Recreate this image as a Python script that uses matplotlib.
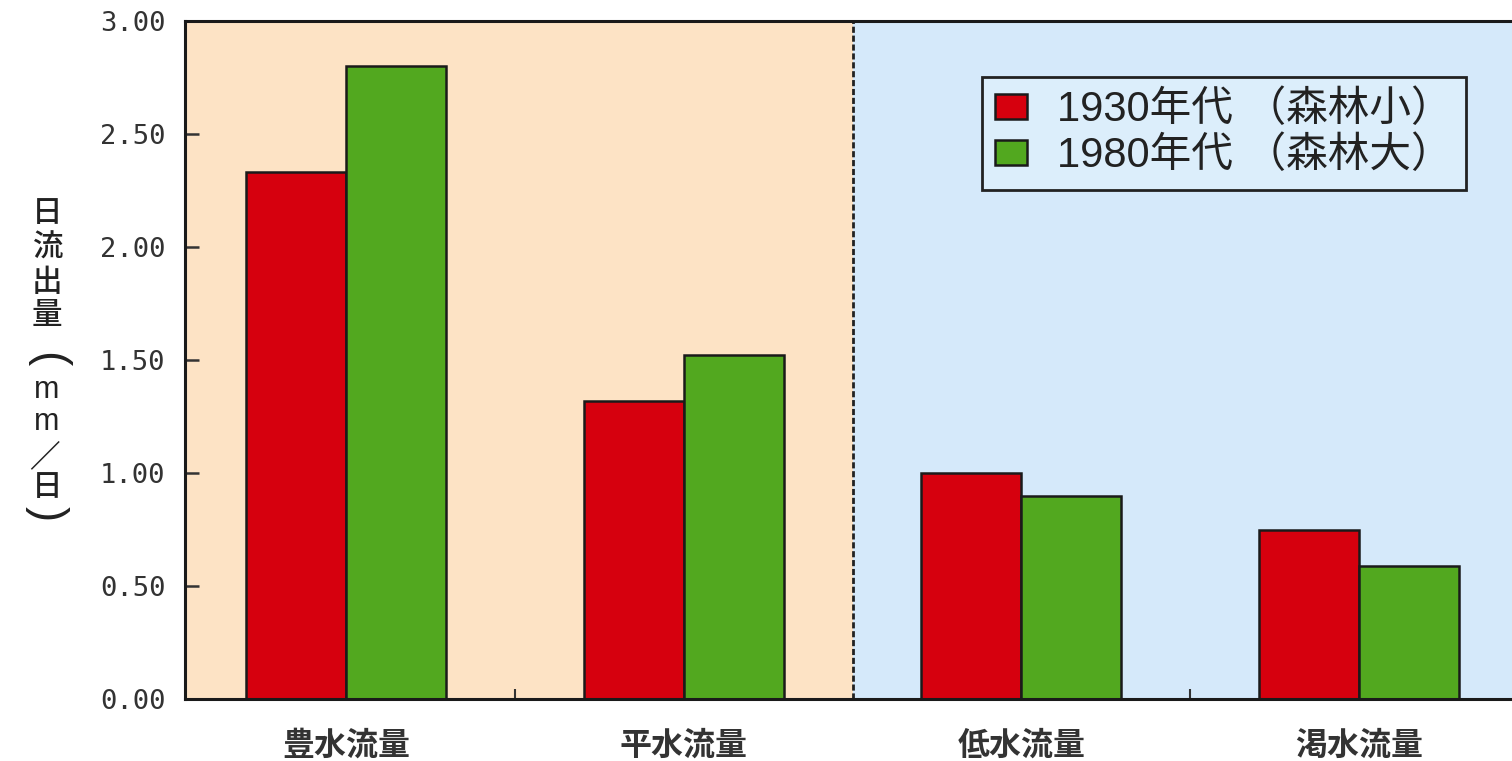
import matplotlib
matplotlib.use("Agg")
import matplotlib.pyplot as plt
import numpy as np

plt.rcParams['font.family'] = ['Noto Sans CJK JP', 'DejaVu Sans']

categories = ["豊水流量", "平水流量", "低水流量", "渇水流量"]
series_names = ["1930年代 （森林小）", "1980年代 （森林大）"]
values_1930 = [2.33, 1.32, 1.00, 0.75]
values_1980 = [2.80, 1.52, 0.90, 0.59]
y_ticks = [0.0, 0.5, 1.0, 1.5, 2.0, 2.5, 3.0]

red = "#D6000E"
green = "#52A81F"
peach = "#FDE3C5"
blue = "#D5E9FA"
ink = "#222222"

W, H = 1512, 761
fig = plt.figure(figsize=(W / 100, H / 100), dpi=100)
fig.patch.set_facecolor("white")

x0, x1 = -0.478, 3.5
ax_left_px, ax_bottom_px, ax_top_px = 185, 699, 21
px_per_unit = 337.5
ax_w_px = (x1 - x0) * px_per_unit
ax = fig.add_axes([ax_left_px / W, 1 - ax_bottom_px / H,
                   ax_w_px / W, (ax_bottom_px - ax_top_px) / H])
ax.set_xlim(x0, x1)
ax.set_ylim(0, 3.0)

# two shaded regions separated by a dashed divider
ax.axvspan(x0, 1.5, color=peach, zorder=0, lw=0)
ax.axvspan(1.5, x1, color=blue, zorder=0, lw=0)
ax.axvline(1.5, color=ink, lw=2, linestyle=(0, (2.2, 1.0)), zorder=1)

x = np.arange(len(categories))
bw = 0.296
ax.bar(x - bw / 2, values_1930, bw, color=red, edgecolor="#1a1a1a",
       linewidth=1.8, label=series_names[0], zorder=2)
ax.bar(x + bw / 2, values_1980, bw, color=green, edgecolor="#1a1a1a",
       linewidth=1.8, label=series_names[1], zorder=2)

for side in ["left", "bottom", "top"]:
    ax.spines[side].set_linewidth(2.2)
    ax.spines[side].set_color("#1a1a1a")
ax.spines["right"].set_visible(False)

ax.set_yticks(y_ticks)
ax.set_yticklabels([f"{v:.2f}" for v in y_ticks], family="DejaVu Sans Mono",
                   fontsize=19.5, color="#333333")
ax.tick_params(axis="y", direction="in", length=10, width=1.8,
               color="#333333", pad=14)

ax.set_xticks(x)
ax.set_xticklabels(categories, fontsize=23, color="#333333", fontweight="bold")
ax.tick_params(axis="x", which="major", length=0, pad=22)
ax.set_xticks([0.5, 2.5], minor=True)
ax.tick_params(axis="x", which="minor", direction="in", length=7, width=1.5,
               color="#333333")

# vertical y-axis label, written top to bottom (brackets turned sideways)
cx = 47 / W
for ch, yc in zip(["日", "流", "出", "量"], [214, 248, 283, 316]):
    fig.text(cx, 1 - yc / H, ch, ha="center", va="center", fontsize=22,
             fontweight="medium", color=ink)
fig.text(cx, 1 - 360 / H, "(", ha="center", va="center", fontsize=33,
         rotation=-90, family="Liberation Sans", color=ink)
for yc in [390, 422]:
    fig.text(cx, 1 - yc / H, "m", ha="center", va="center", fontsize=22,
             family="Liberation Sans", color=ink)
fig.text(44 / W, 1 - 457 / H, "／", ha="center", va="center", fontsize=22,
         fontweight="bold", color=ink)
fig.text(cx, 1 - 488 / H, "日", ha="center", va="center", fontsize=22,
         fontweight="medium", color=ink)
fig.text(cx, 1 - 514 / H, ")", ha="center", va="center", fontsize=33,
         rotation=-90, family="Liberation Sans", color=ink)

leg = ax.legend(loc="upper left", bbox_to_anchor=(982 / W, 1 - 77 / H),
                bbox_transform=fig.transFigure, borderaxespad=0,
                prop={"family": ["Liberation Sans", "Noto Sans CJK JP"], "size": 30},
                frameon=True, fancybox=False, edgecolor=ink,
                facecolor="#DCEEFB", framealpha=1, labelspacing=0.14,
                handlelength=0.77, handleheight=0.53, handletextpad=0.72,
                borderpad=0.32)
leg.get_frame().set_linewidth(2)
for t in leg.get_texts():
    t.set_color(ink)

fig.savefig("out.png", dpi=100)
